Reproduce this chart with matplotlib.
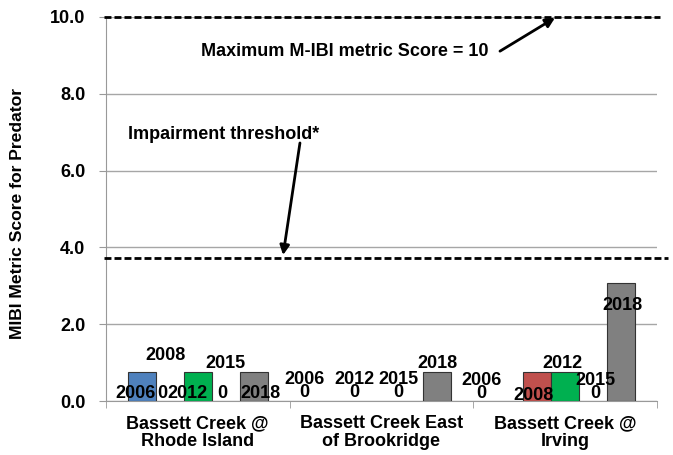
import matplotlib
matplotlib.use("Agg")
import matplotlib.pyplot as plt
import matplotlib.transforms as mtransforms
import numpy as np

plt.rcParams['font.family'] = ['Liberation Sans', 'DejaVu Sans']
plt.rcParams['font.weight'] = 'bold'

categories = ["Bassett Creek @\nRhode Island", "Bassett Creek East\nof Brookridge", "Bassett Creek @\nIrving"]
series = ["2006", "2008", "2012", "2015", "2018"]
values = {
    "2006": [0.76, 0.0, 0.0],
    "2008": [0.0, np.nan, 0.76],
    "2012": [0.76, 0.0, 0.76],
    "2015": [0.0, 0.0, 0.0],
    "2018": [0.76, 0.76, 3.06],
}
colors = ["#4F81BD", "#C0504D", "#00B050", "#8064A2", "#808080"]
max_score = 10.0
threshold = 3.73
yticks = [0, 2, 4, 6, 8, 10]

# data labels: (category index, series index, text, dx px, dy px above axis)
labels = [
    (0, 0, "2006", -6.5, 8), (0, 1, "2008", -4, 46), (0, 1, "0", -7, 8),
    (0, 2, "2012", -10, 8), (0, 3, "2015", 0, 37), (0, 3, "0", -3, 8),
    (0, 4, "2018", 7, 8),
    (1, 0, "2006\n0", -20.5, 15),
    (1, 2, "2012\n0", -27, 15),
    (1, 3, "2015\n0", -10.5, 15),
    (1, 4, "2018", 0, 38),
    (2, 0, "2006\n0", -27.5, 14),
    (2, 1, "2008", -3.5, 5), (2, 2, "2012", -2.5, 38),
    (2, 3, "2015\n0", 3, 14),
    (2, 4, "2018", 1.5, 96),
]

fig = plt.figure(figsize=(6.73, 4.55), dpi=100)
ax = fig.add_axes([106/673, 1-401/455, 550.5/673, 384/455])

x = np.arange(len(categories))
w = 0.1527
for j, s in enumerate(series):
    vals = np.array(values[s], dtype=float)
    xs = x + (j - 2) * w
    mask = ~np.isnan(vals) & (vals > 0)
    ax.bar(xs[mask], vals[mask], width=w, color=colors[j], edgecolor='#333333', linewidth=0.8, zorder=3)

for ci, sj, txt, dx, dy in labels:
    ax.annotate(txt, xy=(x[ci] + (sj - 2) * w, 0), xytext=(dx, dy), textcoords='offset pixels',
                ha='center', va='center', fontsize=13, fontweight='bold', zorder=5,
                linespacing=0.75, annotation_clip=False)

ax.set_xlim(-0.5, 2.5)
ax.set_ylim(0, 10)
ax.set_yticks(yticks)
ax.set_yticklabels([f"{v:.1f}" for v in yticks], fontsize=13, fontweight='bold')
ax.yaxis.grid(True, color='#A6A6A6', linewidth=1.0, zorder=0)
ax.set_axisbelow(True)

ax.set_xticks(x)
ax.set_xticklabels(categories, fontsize=13, fontweight='bold', linespacing=1.1)
ax.tick_params(axis='x', length=0, pad=10)
ax.set_xticks(np.arange(-0.5, 3.0, 1.0), minor=True)
ax.tick_params(axis='x', which='minor', length=5, color='#999999', direction='out')
ax.tick_params(axis='y', length=5, color='#999999', pad=10)

for side in ['top', 'right']:
    ax.spines[side].set_visible(False)
ax.spines['left'].set_color('#999999')
ax.spines['bottom'].set_color('#999999')

ax.set_ylabel("MIBI Metric Score for Predator", fontsize=12.6, fontweight='bold')
ax.yaxis.set_label_coords(-0.147, 0.487)

trans = mtransforms.blended_transform_factory(ax.transAxes, ax.transData)
ax.plot([-0.004, 1.006], [max_score, max_score], transform=trans, color='black', lw=2,
        linestyle=(0, (2.5, 1.1)), clip_on=False, zorder=4)
ax.plot([-0.004, 1.021], [threshold, threshold], transform=trans, color='black', lw=2,
        linestyle=(0, (2.5, 1.1)), clip_on=False, zorder=4)

ax.text(0.802, 9.09, "Maximum M-IBI metric Score = 10", ha='center', va='center', fontsize=13, fontweight='bold')
ax.annotate("", xy=(1.947, 9.98), xytext=(1.647, 9.11),
            arrowprops=dict(arrowstyle='-|>', lw=2, color='black', mutation_scale=14, shrinkA=0, shrinkB=0),
            annotation_clip=False)
ax.text(0.143, 6.95, "Impairment threshold*", ha='center', va='center', fontsize=13, fontweight='bold')
ax.annotate("", xy=(0.465, 3.80), xytext=(0.557, 6.72),
            arrowprops=dict(arrowstyle='-|>', lw=2, color='black', mutation_scale=14, shrinkA=0, shrinkB=0))

fig.savefig("out.png", dpi=100)
